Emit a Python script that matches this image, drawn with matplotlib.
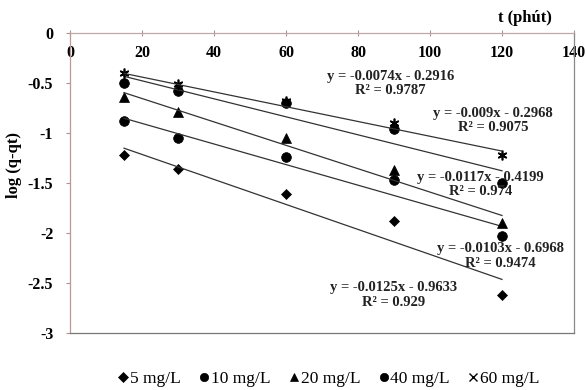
import numpy as np
import matplotlib.pyplot as plt
from matplotlib.lines import Line2D

plt.rcParams['font.family'] = ['Liberation Serif', 'DejaVu Serif']
plt.rcParams['font.weight'] = 'bold'

# time points (minutes)
t = [15, 30, 60, 90, 120]

# log(q - qt) for each initial concentration
y_5 = [-1.22, -1.36, -1.61, -1.88, -2.62]
y_10 = [-0.88, -1.05, -1.24, -1.47, -2.03]
y_20 = [-0.64, -0.79, -1.05, -1.37, -1.90]
y_40 = [-0.50, -0.58, -0.70, -0.96, -1.50]
y_60 = [-0.40, -0.51, -0.68, -0.90, -1.22]

labels = ['5 mg/L', '10 mg/L', '20 mg/L', '40 mg/L', '60 mg/L']

# trendline coefficients as printed on the chart
slopes = [-0.0125, -0.0103, -0.0117, -0.009, -0.0074]
intercepts = [-0.9633, -0.6968, -0.4199, -0.2968, -0.2916]
r2 = ['0.929', '0.9474', '0.974', '0.9075', '0.9787']

# equation label anchors (data coords)
eq_x = [90, 119.5, 114, 117.5, 89]
eq_y = [-2.62, -2.23, -1.51, -0.87, -0.50]

series = [y_5, y_10, y_20, y_40, y_60]
markers = ['D', 'o', '^', 'o', (6, 2, 0)]
msizes = [5, 7, 7, 7, 7]

fig = plt.figure(figsize=(5.86, 3.9), dpi=100)
ax = fig.add_axes([0.1195, 0.146, 0.86, 0.769])

t_line = np.array([min(t), max(t)])
for ys, m, ms, lab, a, b in zip(series, markers, msizes, labels, slopes, intercepts):
    ax.plot(t, ys, linestyle='none', marker=m, markersize=ms, color='black',
            markeredgewidth=1.2 if m == (6, 2, 0) else 0.5, label=lab)
    ax.plot(t_line, a * t_line + b, color='#333333', linewidth=0.9)

for a, b, r, xe, ye in zip(slopes, intercepts, r2, eq_x, eq_y):
    sign = '-' if b < 0 else '+'
    txt = f'y = {a:g}x {sign} {abs(b):g}\nR\u00b2 = {r}'
    ax.text(xe, ye, txt, ha='center', va='center', fontsize=10.5,
            fontweight='bold', linespacing=1.12, color='#222222')

ax.set_xlim(0, 140)
ax.set_ylim(-3, 0)
ax.set_xticks(np.arange(0, 141, 20))
ax.set_yticks([0, -0.5, -1, -1.5, -2, -2.5, -3])
ax.set_yticklabels(['0', '-0.5', '-1', '-1.5', '-2', '-2.5', '-3'])

ax.xaxis.set_ticks_position('top')
ax.tick_params(axis='x', top=True, labeltop=True, bottom=False, labelbottom=False,
               direction='inout', length=4, pad=-22, labelsize=11.5, color='#b09090')
ax.tick_params(axis='y', direction='out', length=3, pad=9, labelsize=11.5, color='#b09090')
for lab in ax.get_xticklabels() + ax.get_yticklabels():
    lab.set_fontweight('bold')

ax.spines['top'].set_color('#c0a8a8')
ax.spines['left'].set_color('#b89a9a')
ax.spines['right'].set_color('#888888')
ax.spines['bottom'].set_color('#777777')
for s in ax.spines.values():
    s.set_linewidth(0.9)

fig.text(0.896, 0.954, 't (phút)', ha='center', va='center', fontsize=12,
         fontweight='bold')
ax.set_ylabel('log (q-qt)', fontsize=12, fontweight='bold')
ax.yaxis.set_label_coords(-0.095, 0.56)

handles = [Line2D([], [], linestyle='none', marker=m, color='black',
                  markersize=6, markeredgewidth=0.5) for m in markers[:4]]
handles[0] = Line2D([], [], linestyle='none', marker='D', color='black',
                    markersize=5, markeredgewidth=0.5)
handles.append(Line2D([], [], linestyle='none', marker='x', color='black',
                      markersize=6, markeredgewidth=1.0))
leg = fig.legend(handles, labels, loc='center', bbox_to_anchor=(0.56, 0.028), ncol=5,
                 frameon=False, prop={'size': 12.5, 'weight': 'normal'},
                 handletextpad=0.05, columnspacing=1.0, handlelength=0.7)

fig.savefig('out.png', dpi=100, facecolor='white')
